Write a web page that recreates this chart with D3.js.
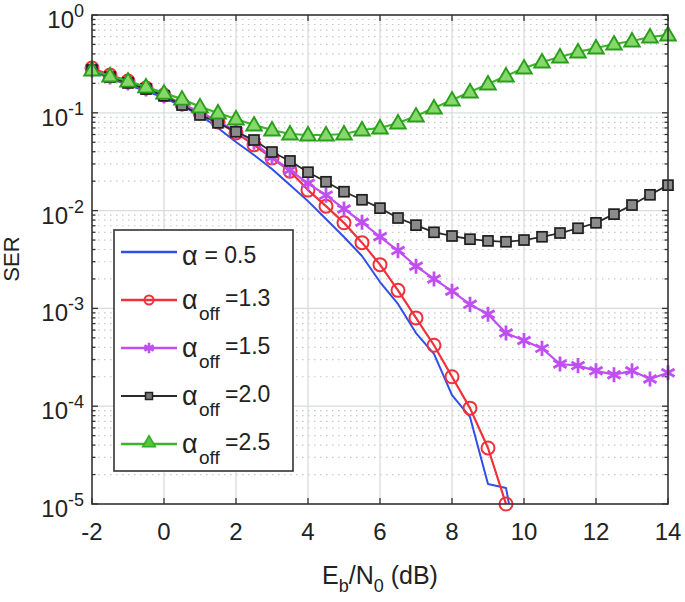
<!DOCTYPE html>
<html><head><meta charset="utf-8">
<script src="https://cdn.jsdelivr.net/npm/d3@7/dist/d3.min.js"></script>
<style>body{margin:0;background:#fff}svg{display:block}text{font-family:"Liberation Sans",Arial,sans-serif;fill:#222}</style>
</head><body>
<svg id="c" width="685" height="602"></svg>
<script>
const xFull = [-2,-1.5,-1,-0.5,0,0.5,1,1.5,2,2.5,3,3.5,4,4.5,5,5.5,6,6.5,7,7.5,8,8.5,9,9.5,10,10.5,11,11.5,12,12.5,13,13.5,14];
const xBlue = [-2,-1.5,-1,-0.5,0,0.5,1,1.5,2,2.5,3,3.5,4,4.5,5,5.5,6,6.5,7,7.5,8,8.5,9,9.5,10];
const xRed = [-2,-1.5,-1,-0.5,0,0.5,1,1.5,2,2.5,3,3.5,4,4.5,5,5.5,6,6.5,7,7.5,8,8.5,9,9.5];
const serBlue = [0.268,0.227,0.192,0.167,0.142,0.117,0.095,0.070,0.0503,0.037,0.0266,0.0183,0.0125,0.0082,0.00537,0.00343,0.00186,0.00111,0.00056,0.000342,0.00013,0.0000776,0.000016,0.0000146,0.0000015];
const serRed = [0.287,0.243,0.211,0.179,0.152,0.123,0.0995,0.0805,0.0622,0.047,0.0345,0.0253,0.0162,0.0111,0.0075,0.0047,0.0028,0.00153,0.0008,0.00042,0.0002,0.0000955,0.0000374,0.00001];
const serMag = [0.274,0.232,0.202,0.175,0.149,0.123,0.102,0.082,0.065,0.050,0.035,0.026,0.019,0.0144,0.0104,0.0076,0.0054,0.0039,0.0027,0.0020,0.0015,0.0011,0.00087,0.00056,0.00047,0.00039,0.00027,0.00026,0.00023,0.00021,0.00023,0.00019,0.00022];
const serBlack = [0.274,0.232,0.202,0.175,0.149,0.12,0.095,0.079,0.064,0.0527,0.0397,0.0322,0.0247,0.0197,0.0156,0.0129,0.0106,0.0084,0.0071,0.006,0.0055,0.0051,0.0049,0.0048,0.005,0.0054,0.0059,0.0066,0.0075,0.0092,0.0114,0.0145,0.0182];
const serGreen = [0.274,0.238,0.211,0.184,0.159,0.138,0.115,0.0995,0.0865,0.075,0.0667,0.0607,0.0593,0.0593,0.0607,0.0667,0.070,0.0787,0.0927,0.112,0.135,0.163,0.197,0.238,0.287,0.331,0.372,0.419,0.460,0.505,0.542,0.596,0.625];
const xTicks = [-2,0,2,4,6,8,10,12,14];
const yExps = [0,-1,-2,-3,-4,-5];
const legendSub = ["", "off", "off", "off", "off"];
const legendVal = [" = 0.5", "=1.3", "=1.5", "=2.0", "=2.5"];

const L=92,R=668,T=15,B=504;
const svg=d3.select("#c");
const x=d3.scaleLinear().domain([-2,14]).range([L,R]);
const y=d3.scaleLog().domain([1e-5,1]).range([B,T]);

// grid
const g=svg.append("g");
const minor=[];
for(let e=-5;e<0;e++) for(let m=2;m<=9;m++) minor.push(m*Math.pow(10,e));
g.selectAll(".mg").data(minor).join("line").attr("x1",L).attr("x2",R)
 .attr("y1",d=>y(d)).attr("y2",d=>y(d)).attr("stroke","#c8c8c8").attr("stroke-width",1.2).attr("stroke-dasharray","1.5,4.5");
g.selectAll(".gx").data(xTicks.slice(1,-1)).join("line").attr("x1",d=>x(d)).attr("x2",d=>x(d)).attr("y1",T).attr("y2",B).attr("stroke","#d9dcdc").attr("stroke-width",1.3);
g.selectAll(".gy").data(yExps.slice(1,-1)).join("line").attr("y1",d=>y(Math.pow(10,d))).attr("y2",d=>y(Math.pow(10,d))).attr("x1",L).attr("x2",R).attr("stroke","#d9dcdc").attr("stroke-width",1.3);

// ticks
const tk=svg.append("g").attr("stroke","#333").attr("stroke-width",1.3);
xTicks.forEach(d=>{tk.append("line").attr("x1",x(d)).attr("x2",x(d)).attr("y1",B).attr("y2",B-6);tk.append("line").attr("x1",x(d)).attr("x2",x(d)).attr("y1",T).attr("y2",T+6);});
yExps.forEach(e=>{const yy=y(Math.pow(10,e));tk.append("line").attr("x1",L).attr("x2",L+6).attr("y1",yy).attr("y2",yy);tk.append("line").attr("x1",R).attr("x2",R-6).attr("y1",yy).attr("y2",yy);});
minor.forEach(d=>{const yy=y(d);tk.append("line").attr("x1",L).attr("x2",L+3.5).attr("y1",yy).attr("y2",yy);tk.append("line").attr("x1",R).attr("x2",R-3.5).attr("y1",yy).attr("y2",yy);});

// clip
svg.append("clipPath").attr("id","clp").append("rect").attr("x",L).attr("y",T).attr("width",R-L).attr("height",B-T);

const line=d3.line().x(d=>x(d[0])).y(d=>y(d[1]));
const series=[
 {xs:xBlue,ys:serBlue,col:"#2f4fe6",w:2,sym:null},
 {xs:xRed,ys:serRed,col:"#f0303a",w:2.2,sym:"circle"},
 {xs:xFull,ys:serMag,col:"#bf50ef",w:2.2,sym:"ast"},
 {xs:xFull,ys:serBlack,col:"#2a2a2a",w:1.8,sym:"square"},
 {xs:xFull,ys:serGreen,col:"#3cb52a",w:2.2,sym:"tri"}
];
function drawMarker(sel,s,px,py){
  if(s.sym==="circle") sel.append("circle").attr("cx",px).attr("cy",py).attr("r",6.5).attr("fill","none").attr("stroke",s.col).attr("stroke-width",2);
  else if(s.sym==="square") sel.append("rect").attr("x",px-5).attr("y",py-5).attr("width",10).attr("height",10).attr("fill","#8a8a8a").attr("stroke","#1e1e1e").attr("stroke-width",1.7);
  else if(s.sym==="tri") sel.append("path").attr("transform",`translate(${px},${py+1})`).attr("d",d3.symbol(d3.symbolTriangle,105)()).attr("fill","#86d86a").attr("stroke","#2a9e1c").attr("stroke-width",1.9);
  else if(s.sym==="ast") sel.append("path").attr("transform",`translate(${px},${py})`).attr("d",d3.symbol(d3.symbolAsterisk,160)()).attr("fill","none").attr("stroke",s.col).attr("stroke-width",2.8);
}
series.forEach(s=>{
  const pts=s.xs.map((v,i)=>[v,s.ys[i]]);
  svg.append("path").attr("clip-path","url(#clp)").attr("d",line(pts)).attr("fill","none").attr("stroke",s.col).attr("stroke-width",s.w).attr("stroke-linejoin","round");
  if(s.sym){const mg=svg.append("g");pts.forEach(p=>drawMarker(mg,s,x(p[0]),y(p[1])));}
});

// frame
svg.append("rect").attr("x",L).attr("y",T).attr("width",R-L).attr("height",B-T).attr("fill","none").attr("stroke","#333").attr("stroke-width",1.6);

// tick labels
xTicks.forEach(d=>svg.append("text").attr("x",x(d)).attr("y",540).attr("text-anchor","middle").attr("font-size",24).text(d));
yExps.forEach(e=>{const t=svg.append("text").attr("x",84).attr("y",y(Math.pow(10,e))+13).attr("text-anchor","end").attr("font-size",24);
 t.append("tspan").text("10");t.append("tspan").attr("dy",-11).attr("font-size",18).text(e);});

// axis labels
svg.append("text").attr("transform","translate(19,259) rotate(-90)").attr("text-anchor","middle").attr("font-size",22).text("SER");
const xl=svg.append("text").attr("x",380).attr("y",584).attr("text-anchor","middle").attr("font-size",25);
xl.append("tspan").text("E");xl.append("tspan").attr("dy",8).attr("font-size",18).text("b");
xl.append("tspan").attr("dy",-8).text("/N");xl.append("tspan").attr("dy",8).attr("font-size",18).text("0");
xl.append("tspan").attr("dy",-8).text(" (dB)");

// legend
const lg=svg.append("g");
lg.append("rect").attr("x",114).attr("y",230).attr("width",179).attr("height",241).attr("fill","#fff").attr("stroke","#333").attr("stroke-width",1.6);
series.forEach((s,i)=>{
  const ly=252+i*48;
  lg.append("line").attr("x1",121).attr("x2",177).attr("y1",ly).attr("y2",ly).attr("stroke",s.col).attr("stroke-width",s.w+0.4);
  if(s.sym){const mk=lg.append("g");
    if(s.sym==="circle") mk.append("circle").attr("cx",149).attr("cy",ly).attr("r",4.5).attr("fill","none").attr("stroke",s.col).attr("stroke-width",2);
    else if(s.sym==="square") mk.append("rect").attr("x",145.5).attr("y",ly-3.5).attr("width",7).attr("height",7).attr("fill","#777").attr("stroke","#222").attr("stroke-width",1.5);
    else if(s.sym==="tri") mk.append("path").attr("transform",`translate(149,${ly-1})`).attr("d",d3.symbol(d3.symbolTriangle,70)()).attr("fill","#4fc83a").attr("stroke","#33aa22").attr("stroke-width",1.5);
    else mk.append("path").attr("transform",`translate(149,${ly})`).attr("d",d3.symbol(d3.symbolAsterisk,80)()).attr("fill","none").attr("stroke",s.col).attr("stroke-width",2.6);
  }
  lg.append("text").attr("x",182).attr("y",i===0?ly+13:ly+9).attr("font-family","Liberation Serif, serif").attr("font-size",27).text("α");
  if(legendSub[i]) lg.append("text").attr("x",199).attr("y",ly+20).attr("font-size",19).text(legendSub[i]);
  lg.append("text").attr("x",i===0?198:225).attr("y",i===0?ly+11:ly+6).attr("font-size",23).attr("xml:space","preserve").text(legendVal[i]);
});
</script>
</body></html>
